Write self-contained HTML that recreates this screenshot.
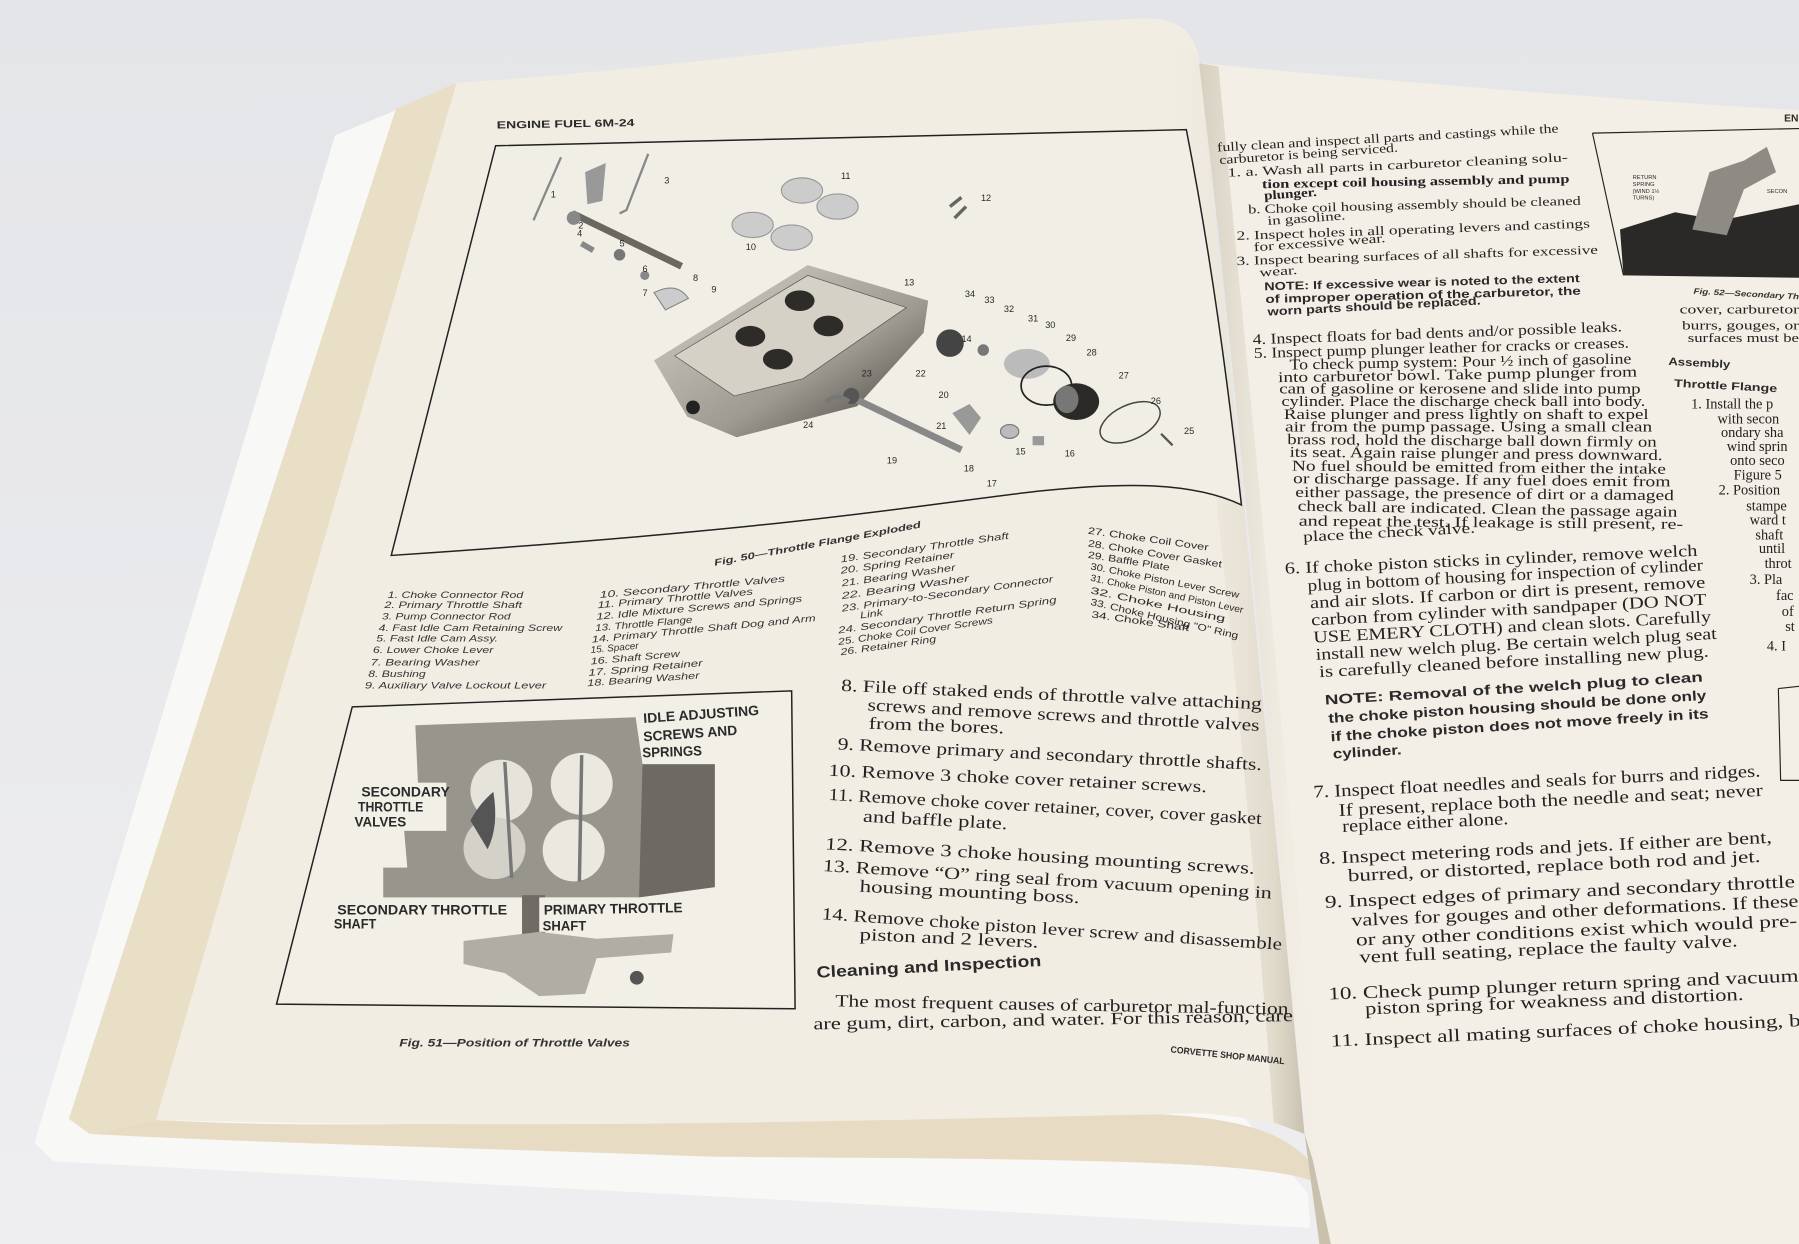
<!DOCTYPE html>
<html><head><meta charset="utf-8">
<style>
html,body{margin:0;padding:0;background:#e9e9ea;}
svg{display:block;}
.s{font-family:"Liberation Serif",serif;fill:#222;}
.a{font-family:"Liberation Sans",sans-serif;fill:#2a2a2a;}
.ai{font-family:"Liberation Sans",sans-serif;font-style:italic;fill:#333;}
.b{font-weight:bold;}
</style></head><body>
<svg width="1799" height="1244" viewBox="0 0 1568 1084" preserveAspectRatio="none" xmlns="http://www.w3.org/2000/svg">
<defs>
<linearGradient id="bg" x1="0" y1="0" x2="0" y2="1"><stop offset="0" stop-color="#e4e5e8"/><stop offset="1" stop-color="#eeeef0"/></linearGradient>
<linearGradient id="gut" x1="0" y1="0" x2="1" y2="0"><stop offset="0" stop-color="#f0ece1" stop-opacity="0"/><stop offset="0.8" stop-color="#e0dacb"/><stop offset="1" stop-color="#c9c1b0"/></linearGradient>
<linearGradient id="gutR" x1="0" y1="0" x2="1" y2="0"><stop offset="0" stop-color="#d6cfbf"/><stop offset="1" stop-color="#f2eee5" stop-opacity="0"/></linearGradient>
<linearGradient id="carb" x1="0" y1="0" x2="1" y2="1"><stop offset="0" stop-color="#d8d4ca"/><stop offset="0.6" stop-color="#9e9a91"/><stop offset="1" stop-color="#3c3a36"/></linearGradient>
</defs>
<rect width="1568" height="1084" fill="url(#bg)"/>
<polygon points="292,118 345,96 1140,1040 1142,1070 47,1012 30,996" fill="#f8f8f6"/>
<polygon points="345,95 398,72 136,976 78,988 60,975" fill="#e9dfc6"/>
<path d="M78,988 L136,976 C400,990 700,960 1012,971 C1090,975 1120,990 1140,1010 L1146,1030 C1100,1010 900,1010 623,1008 C400,1000 200,995 78,988 Z" fill="#e7dcc3"/>
<path d="M398,72 C600,60 850,20 1000,16 C1030,16 1040,30 1045,50 C1070,300 1110,700 1137,988 C1090,972 1050,968 1012,971 C800,975 500,985 136,976 Z" fill="#f1ede3"/>
<path d="M1005,20 L1045,50 C1070,300 1110,700 1137,988 L1110,978 C1090,700 1050,300 1005,20 Z" fill="url(#gut)"/>
<path d="M1045,55 C1100,60 1300,80 1568,96 L1568,1084 L1160,1084 L1140,1010 C1110,700 1075,300 1045,55 Z" fill="#f3efe6"/>
<path d="M1045,55 L1062,58 C1090,350 1125,700 1158,1084 L1150,1084 L1140,1010 C1110,700 1075,300 1045,55 Z" fill="url(#gutR)"/>
<path d="M1137,988 L1150,1084 L1160,1084 L1144,1010 Z" fill="#c9c1ae"/>

<text class="a b" x="433" y="112" font-size="9" textLength="120" lengthAdjust="spacingAndGlyphs" transform="rotate(-1 433 112)">ENGINE FUEL 6M-24</text>

<path d="M432,127 C650,122 850,118 1034,113 C1055,220 1070,330 1082,440 C1040,420 980,420 905,428 C800,440 700,460 341,484 Z" fill="#f1eee6" stroke="#222" stroke-width="1.3"/>
<line x1="489" y1="137" x2="465" y2="192" stroke="#888" stroke-width="2"/>
<polyline points="565,134 546,183 540,186" fill="none" stroke="#888" stroke-width="2"/>
<polygon points="510,150 528,142 525,175 512,178" fill="#999"/>
<line x1="499" y1="186" x2="594" y2="232" stroke="#6a6760" stroke-width="6"/>
<circle cx="500" cy="190" r="6" fill="#888"/>
<rect x="508" y="210" width="12" height="5" fill="#888" transform="rotate(30 508 210)"/>
<circle cx="540" cy="222" r="5" fill="#777"/>
<circle cx="562" cy="240" r="4" fill="#888"/>
<path d="M570,255 q20,-10 30,5 q-10,5 -20,10 z" fill="#ccc" stroke="#888"/>
<ellipse cx="699" cy="166" rx="18" ry="11" fill="#ccc" stroke="#999"/>
<ellipse cx="730" cy="180" rx="18" ry="11" fill="#ccc" stroke="#999"/>
<ellipse cx="656" cy="196" rx="18" ry="11" fill="#ccc" stroke="#999"/>
<ellipse cx="690" cy="207" rx="18" ry="11" fill="#ccc" stroke="#999"/>
<line x1="828" y1="180" x2="838" y2="172" stroke="#666" stroke-width="3"/>
<line x1="832" y1="190" x2="842" y2="180" stroke="#666" stroke-width="3"/>
<polygon points="570,314 704,231 809,262 805,290 747,354 642,381 599,363" fill="url(#carb)"/>
<polygon points="588,310 704,240 790,268 700,330 640,345" fill="#d5d1c7" stroke="#555" stroke-width="0.6"/>
<ellipse cx="697" cy="262" rx="13" ry="9" fill="#2e2c29"/>
<ellipse cx="722" cy="284" rx="13" ry="9" fill="#2e2c29"/>
<ellipse cx="654" cy="293" rx="13" ry="9" fill="#2e2c29"/>
<ellipse cx="678" cy="313" rx="13" ry="9" fill="#2e2c29"/>
<circle cx="604" cy="355" r="6" fill="#222"/>
<line x1="742" y1="346" x2="838" y2="392" stroke="#888" stroke-width="6"/>
<circle cx="742" cy="345" r="7" fill="#555"/>
<path d="M830,360 l15,-8 l10,12 l-10,15 z" fill="#999"/>
<circle cx="828" cy="299" r="12" fill="#444"/>
<circle cx="857" cy="305" r="5" fill="#777"/>
<ellipse cx="895" cy="317" rx="20" ry="13" fill="#bbb"/>
<ellipse cx="912" cy="336" rx="22" ry="17" fill="none" stroke="#222" stroke-width="1.5"/>
<ellipse cx="938" cy="350" rx="20" ry="16" fill="#2c2a27"/>
<ellipse cx="930" cy="348" rx="10" ry="12" fill="#777"/>
<ellipse cx="985" cy="368" rx="28" ry="15" fill="none" stroke="#444" stroke-width="1.3" transform="rotate(-25 985 368)"/>
<line x1="1012" y1="378" x2="1022" y2="388" stroke="#555" stroke-width="2"/>
<ellipse cx="880" cy="376" rx="8" ry="6" fill="#bbb" stroke="#777"/>
<path d="M900,380 l10,0 l0,8 l-10,0 z" fill="#999"/>
<path d="M720,350 q10,-8 20,0" fill="none" stroke="#777" stroke-width="4"/>
<g class="a" font-size="8">
<text x="480" y="172">1</text><text x="504" y="199">2</text><text x="579" y="160">3</text><text x="503" y="206">4</text><text x="540" y="215">5</text><text x="560" y="237">6</text><text x="560" y="258">7</text><text x="604" y="245">8</text><text x="620" y="255">9</text>
<text x="650" y="218">10</text><text x="733" y="156">11</text><text x="855" y="175">12</text><text x="788" y="249">13</text><text x="838" y="298">14</text><text x="885" y="396">15</text><text x="928" y="398">16</text><text x="860" y="424">17</text><text x="840" y="411">18</text><text x="773" y="404">19</text><text x="818" y="347">20</text><text x="816" y="374">21</text><text x="798" y="328">22</text><text x="751" y="328">23</text><text x="700" y="373">24</text><text x="1032" y="378">25</text><text x="1003" y="352">26</text><text x="975" y="330">27</text><text x="947" y="310">28</text><text x="929" y="297">29</text><text x="911" y="286">30</text><text x="896" y="280">31</text><text x="875" y="272">32</text><text x="858" y="264">33</text><text x="841" y="259">34</text>
</g>
<text class="ai b" x="623" y="493" font-size="8" textLength="183" lengthAdjust="spacingAndGlyphs" transform="rotate(-10.5 623 493)">Fig. 50—Throttle Flange Exploded</text>

<g class="ai" font-size="8.3">
<text x="338" y="521" textLength="118" lengthAdjust="spacingAndGlyphs">1. Choke Connector Rod</text>
<text x="335" y="530" textLength="120" lengthAdjust="spacingAndGlyphs">2. Primary Throttle Shaft</text>
<text x="333" y="540" textLength="112" lengthAdjust="spacingAndGlyphs">3. Pump Connector Rod</text>
<text x="330" y="550" textLength="160" lengthAdjust="spacingAndGlyphs">4. Fast Idle Cam Retaining Screw</text>
<text x="328" y="559" textLength="106" lengthAdjust="spacingAndGlyphs">5. Fast Idle Cam Assy.</text>
<text x="325" y="569" textLength="105" lengthAdjust="spacingAndGlyphs">6. Lower Choke Lever</text>
<text x="323" y="580" textLength="95" lengthAdjust="spacingAndGlyphs">7. Bearing Washer</text>
<text x="321" y="590" textLength="50" lengthAdjust="spacingAndGlyphs">8. Bushing</text>
<text x="318" y="600" textLength="158" lengthAdjust="spacingAndGlyphs">9. Auxiliary Valve Lockout Lever</text>
</g>
<g class="ai" font-size="8.3">
<text x="523" y="521" textLength="162" lengthAdjust="spacingAndGlyphs" transform="rotate(-5 523 521)">10. Secondary Throttle Valves</text>
<text x="521" y="530" textLength="136" lengthAdjust="spacingAndGlyphs" transform="rotate(-5 521 530)">11. Primary Throttle Valves</text>
<text x="520" y="540" textLength="180" lengthAdjust="spacingAndGlyphs" transform="rotate(-5 520 540)">12. Idle Mixture Screws and Springs</text>
<text x="519" y="550" textLength="85" lengthAdjust="spacingAndGlyphs" transform="rotate(-5 519 550)">13. Throttle Flange</text>
<text x="516" y="560" textLength="196" lengthAdjust="spacingAndGlyphs" transform="rotate(-5.5 516 560)">14. Primary Throttle Shaft Dog and Arm</text>
<text x="515" y="569" textLength="42" lengthAdjust="spacingAndGlyphs" transform="rotate(-5 515 569)">15. Spacer</text>
<text x="515" y="579" textLength="78" lengthAdjust="spacingAndGlyphs" transform="rotate(-5 515 579)">16. Shaft Screw</text>
<text x="513" y="589" textLength="100" lengthAdjust="spacingAndGlyphs" transform="rotate(-5 513 589)">17. Spring Retainer</text>
<text x="512" y="598" textLength="98" lengthAdjust="spacingAndGlyphs" transform="rotate(-4 512 598)">18. Bearing Washer</text>
</g>
<g class="ai" font-size="8.3">
<text x="733" y="490" textLength="148" lengthAdjust="spacingAndGlyphs" transform="rotate(-8 733 490)">19. Secondary Throttle Shaft</text>
<text x="733" y="500" textLength="100" lengthAdjust="spacingAndGlyphs" transform="rotate(-8 733 500)">20. Spring Retainer</text>
<text x="734" y="511" textLength="100" lengthAdjust="spacingAndGlyphs" transform="rotate(-8 734 511)">21. Bearing Washer</text>
<text x="734" y="522" textLength="112" lengthAdjust="spacingAndGlyphs" transform="rotate(-8 734 522)">22. Bearing Washer</text>
<text x="734" y="533" textLength="186" lengthAdjust="spacingAndGlyphs" transform="rotate(-8 734 533)">23. Primary-to-Secondary Connector</text>
<text x="750" y="539" textLength="20" lengthAdjust="spacingAndGlyphs" transform="rotate(-8 750 539)">Link</text>
<text x="731" y="552" textLength="192" lengthAdjust="spacingAndGlyphs" transform="rotate(-8 731 552)">24. Secondary Throttle Return Spring</text>
<text x="731" y="562" textLength="136" lengthAdjust="spacingAndGlyphs" transform="rotate(-8 731 562)">25. Choke Coil Cover Screws</text>
<text x="733" y="571" textLength="84" lengthAdjust="spacingAndGlyphs" transform="rotate(-8 733 571)">26. Retainer Ring</text>
</g>
<g class="a" font-size="8.3">
<text x="948" y="465" textLength="106" lengthAdjust="spacingAndGlyphs" transform="rotate(8 948 465)">27. Choke Coil Cover</text>
<text x="948" y="476" textLength="118" lengthAdjust="spacingAndGlyphs" transform="rotate(9 948 476)">28. Choke Cover Gasket</text>
<text x="948" y="486" textLength="72" lengthAdjust="spacingAndGlyphs" transform="rotate(9 948 486)">29. Baffle Plate</text>
<text x="950" y="496" textLength="132" lengthAdjust="spacingAndGlyphs" transform="rotate(11 950 496)">30. Choke Piston Lever Screw</text>
<text x="950" y="506" textLength="136" lengthAdjust="spacingAndGlyphs" transform="rotate(12 950 506)">31. Choke Piston and Piston Lever</text>
<text x="950" y="517" textLength="120" lengthAdjust="spacingAndGlyphs" transform="rotate(12 950 517)">32. Choke Housing</text>
<text x="950" y="527" textLength="132" lengthAdjust="spacingAndGlyphs" transform="rotate(13 950 527)">33. Choke Housing "O" Ring</text>
<text x="951" y="538" textLength="86" lengthAdjust="spacingAndGlyphs" transform="rotate(8 951 538)">34. Choke Shaft</text>
</g>

<polygon points="307,616 690,602 693,879 241,875" fill="#f2efe7" stroke="#222" stroke-width="1.3"/>
<path d="M362,632 L554,625 L560,666 L623,666 L623,773 L557,782 L334,782 L334,756 L355,756 L352,721 L366,720 Z" fill="#98958d"/>
<path d="M560,666 L623,666 L623,773 L557,782 Z" fill="#6d6a64"/>
<ellipse cx="437" cy="689" rx="27" ry="27" fill="#e6e3db"/>
<ellipse cx="507" cy="683" rx="27" ry="27" fill="#ebe8e0"/>
<ellipse cx="431" cy="739" rx="27" ry="27" fill="#d4d1c9"/>
<ellipse cx="500" cy="741" rx="27" ry="27" fill="#ebe8e0"/>
<path d="M410,715 q8,-15 20,-25 q5,30 -5,50 z" fill="#555"/>
<line x1="440" y1="664" x2="446" y2="765" stroke="#777" stroke-width="3"/>
<line x1="507" y1="658" x2="505" y2="768" stroke="#777" stroke-width="3"/>
<rect x="455" y="780" width="20" height="40" fill="#6f6c66"/>
<path d="M404,820 L470,812 L520,818 L587,814 L585,830 L520,835 L510,866 L470,868 L440,848 L404,840 Z" fill="#b0ada5"/>
<circle cx="555" cy="852" r="6" fill="#555"/>
<g class="a b" font-size="12">
<rect x="558" y="618" width="78" height="46" fill="#f2efe7" transform="rotate(-4 558 618)"/>
<text x="561" y="630" textLength="101" lengthAdjust="spacingAndGlyphs" transform="rotate(-4 561 630)">IDLE ADJUSTING</text>
<text x="561" y="646" textLength="82" lengthAdjust="spacingAndGlyphs" transform="rotate(-4 561 646)">SCREWS AND</text>
<text x="560" y="660" textLength="52" lengthAdjust="spacingAndGlyphs" transform="rotate(-2 560 660)">SPRINGS</text>
<rect x="307" y="682" width="82" height="42" fill="#f2efe7"/>
<text x="315" y="694" textLength="77" lengthAdjust="spacingAndGlyphs">SECONDARY</text>
<text x="312" y="707" textLength="57" lengthAdjust="spacingAndGlyphs">THROTTLE</text>
<text x="309" y="720" textLength="45" lengthAdjust="spacingAndGlyphs">VALVES</text>
<rect x="288" y="784" width="160" height="28" fill="#f2efe7"/>
<text x="294" y="797" textLength="148" lengthAdjust="spacingAndGlyphs">SECONDARY THROTTLE</text>
<text x="291" y="809" textLength="37" lengthAdjust="spacingAndGlyphs">SHAFT</text>
<rect x="470" y="782" width="125" height="30" fill="#f2efe7"/>
<text x="474" y="797" textLength="121" lengthAdjust="spacingAndGlyphs" transform="rotate(-1 474 797)">PRIMARY THROTTLE</text>
<text x="473" y="811" textLength="38" lengthAdjust="spacingAndGlyphs">SHAFT</text>
</g>
<text class="ai b" x="348" y="912" font-size="9.5" textLength="201" lengthAdjust="spacingAndGlyphs">Fig. 51—Position of Throttle Valves</text>

<g class="s" font-size="15">
<text x="733" y="602" textLength="367" lengthAdjust="spacingAndGlyphs" transform="rotate(2.5 733 602)">8. File off staked ends of throttle valve attaching</text>
<text x="756" y="619" textLength="342" lengthAdjust="spacingAndGlyphs" transform="rotate(3 756 619)">screws and remove screws and throttle valves</text>
<text x="757" y="635" textLength="118" lengthAdjust="spacingAndGlyphs" transform="rotate(2 757 635)">from the bores.</text>
<text x="730" y="653" textLength="370" lengthAdjust="spacingAndGlyphs" transform="rotate(2.8 730 653)">9. Remove primary and secondary throttle shafts.</text>
<text x="722" y="676" textLength="330" lengthAdjust="spacingAndGlyphs" transform="rotate(2.5 722 676)">10. Remove 3 choke cover retainer screws.</text>
<text x="722" y="697" textLength="378" lengthAdjust="spacingAndGlyphs" transform="rotate(3.2 722 697)">11. Remove choke cover retainer, cover, cover gasket</text>
<text x="752" y="716" textLength="126" lengthAdjust="spacingAndGlyphs" transform="rotate(3 752 716)">and baffle plate.</text>
<text x="719" y="740" textLength="375" lengthAdjust="spacingAndGlyphs" transform="rotate(3.3 719 740)">12. Remove 3 choke housing mounting screws.</text>
<text x="717" y="759" textLength="392" lengthAdjust="spacingAndGlyphs" transform="rotate(3.5 717 759)">13. Remove “O” ring seal from vacuum opening in</text>
<text x="749" y="777" textLength="192" lengthAdjust="spacingAndGlyphs" transform="rotate(3 749 777)">housing mounting boss.</text>
<text x="716" y="801" textLength="402" lengthAdjust="spacingAndGlyphs" transform="rotate(3.8 716 801)">14. Remove choke piston lever screw and disassemble</text>
<text x="749" y="819" textLength="156" lengthAdjust="spacingAndGlyphs" transform="rotate(2.5 749 819)">piston and 2 levers.</text>
<text x="728" y="877" textLength="395" lengthAdjust="spacingAndGlyphs" transform="rotate(1 728 877)">The most frequent causes of carburetor mal-function</text>
<text x="709" y="897" textLength="418" lengthAdjust="spacingAndGlyphs" transform="rotate(-1 709 897)">are gum, dirt, carbon, and water. For this reason, care</text>
</g>
<text class="a b" x="712" y="852" font-size="14" textLength="196" lengthAdjust="spacingAndGlyphs" transform="rotate(-3 712 852)">Cleaning and Inspection</text>
<text class="a b" x="1020" y="917" font-size="8" textLength="100" lengthAdjust="spacingAndGlyphs" transform="rotate(6 1020 917)">CORVETTE SHOP MANUAL</text>

<g class="s" font-size="11">
<text x="1061" y="132" textLength="298" lengthAdjust="spacingAndGlyphs" transform="rotate(-3.2 1061 132)">fully clean and inspect all parts and castings while the</text>
<text x="1063" y="143" textLength="156" lengthAdjust="spacingAndGlyphs" transform="rotate(-4 1063 143)">carburetor is being serviced.</text>
<text x="1070" y="154" textLength="297" lengthAdjust="spacingAndGlyphs" transform="rotate(-2.6 1070 154)">1. a. Wash all parts in carburetor cleaning solu-</text>
<text class="b" x="1100" y="164" textLength="268" lengthAdjust="spacingAndGlyphs" transform="rotate(-1 1100 164)">tion except coil housing assembly and pump</text>
<text class="b" x="1102" y="174" textLength="46" lengthAdjust="spacingAndGlyphs" transform="rotate(-4 1102 174)">plunger.</text>
<text x="1088" y="186" textLength="290" lengthAdjust="spacingAndGlyphs" transform="rotate(-1.5 1088 186)">b. Choke coil housing assembly should be cleaned</text>
<text x="1105" y="196" textLength="68" lengthAdjust="spacingAndGlyphs" transform="rotate(-4 1105 196)">in gasoline.</text>
<text x="1078" y="209" textLength="308" lengthAdjust="spacingAndGlyphs" transform="rotate(-2 1078 209)">2. Inspect holes in all operating levers and castings</text>
<text x="1093" y="219" textLength="115" lengthAdjust="spacingAndGlyphs" transform="rotate(-4 1093 219)">for excessive wear.</text>
<text x="1078" y="231" textLength="315" lengthAdjust="spacingAndGlyphs" transform="rotate(-1.8 1078 231)">3. Inspect bearing surfaces of all shafts for excessive</text>
<text x="1098" y="241" textLength="33" lengthAdjust="spacingAndGlyphs" transform="rotate(-4 1098 241)">wear.</text>
</g>
<g class="a b" font-size="10">
<text x="1102" y="253" textLength="275" lengthAdjust="spacingAndGlyphs" transform="rotate(-1.5 1102 253)">NOTE: If excessive wear is noted to the extent</text>
<text x="1103" y="264" textLength="275" lengthAdjust="spacingAndGlyphs" transform="rotate(-1.5 1103 264)">of improper operation of the carburetor, the</text>
<text x="1105" y="275" textLength="186" lengthAdjust="spacingAndGlyphs" transform="rotate(-3 1105 275)">worn parts should be replaced.</text>
</g>
<g class="s" font-size="13">
<text x="1092" y="300" textLength="322" lengthAdjust="spacingAndGlyphs" transform="rotate(-2 1092 300)">4. Inspect floats for bad dents and/or possible leaks.</text>
<text x="1093" y="312" textLength="327" lengthAdjust="spacingAndGlyphs" transform="rotate(-1.6 1093 312)">5. Inspect pump plunger leather for cracks or creases.</text>
<text x="1124" y="322" textLength="298" lengthAdjust="spacingAndGlyphs" transform="rotate(-1 1124 322)">To check pump system: Pour ½ inch of gasoline</text>
<text x="1114" y="333" textLength="313" lengthAdjust="spacingAndGlyphs" transform="rotate(-0.9 1114 333)">into carburetor bowl. Take pump plunger from</text>
<text x="1115" y="343" textLength="315" lengthAdjust="spacingAndGlyphs">can of gasoline or kerosene and slide into pump</text>
<text x="1117" y="354" textLength="317" lengthAdjust="spacingAndGlyphs">cylinder. Place the discharge check ball into body.</text>
<text x="1119" y="365" textLength="318" lengthAdjust="spacingAndGlyphs">Raise plunger and press lightly on shaft to expel</text>
<text x="1120" y="376" textLength="320" lengthAdjust="spacingAndGlyphs">air from the pump passage. Using a small clean</text>
<text x="1122" y="387" textLength="322" lengthAdjust="spacingAndGlyphs" transform="rotate(0.4 1122 387)">brass rod, hold the discharge ball down firmly on</text>
<text x="1124" y="398" textLength="325" lengthAdjust="spacingAndGlyphs" transform="rotate(0.5 1124 398)">its seat. Again raise plunger and press downward.</text>
<text x="1126" y="410" textLength="326" lengthAdjust="spacingAndGlyphs" transform="rotate(0.5 1126 410)">No fuel should be emitted from either the intake</text>
<text x="1127" y="421" textLength="329" lengthAdjust="spacingAndGlyphs" transform="rotate(0.5 1127 421)">or discharge passage. If any fuel does emit from</text>
<text x="1129" y="433" textLength="330" lengthAdjust="spacingAndGlyphs" transform="rotate(0.5 1129 433)">either passage, the presence of dirt or a damaged</text>
<text x="1131" y="445" textLength="331" lengthAdjust="spacingAndGlyphs" transform="rotate(0.9 1131 445)">check ball are indicated. Clean the passage again</text>
<text x="1132" y="458" textLength="335" lengthAdjust="spacingAndGlyphs" transform="rotate(0.5 1132 458)">and repeat the test. If leakage is still present, re-</text>
<text x="1136" y="472" textLength="150" lengthAdjust="spacingAndGlyphs" transform="rotate(-3 1136 472)">place the check valve.</text>
</g>
<g class="s" font-size="14.5">
<text x="1120" y="500" textLength="360" lengthAdjust="spacingAndGlyphs" transform="rotate(-2.5 1120 500)">6. If choke piston sticks in cylinder, remove welch</text>
<text x="1140" y="515" textLength="345" lengthAdjust="spacingAndGlyphs" transform="rotate(-3 1140 515)">plug in bottom of housing for inspection of cylinder</text>
<text x="1142" y="530" textLength="345" lengthAdjust="spacingAndGlyphs" transform="rotate(-3 1142 530)">and air slots. If carbon or dirt is present, remove</text>
<text x="1143" y="545" textLength="345" lengthAdjust="spacingAndGlyphs" transform="rotate(-3 1143 545)">carbon from cylinder with sandpaper (DO NOT</text>
<text x="1145" y="560" textLength="347" lengthAdjust="spacingAndGlyphs" transform="rotate(-3 1145 560)">USE EMERY CLOTH) and clean slots. Carefully</text>
<text x="1147" y="575" textLength="350" lengthAdjust="spacingAndGlyphs" transform="rotate(-3 1147 575)">install new welch plug. Be certain welch plug seat</text>
<text x="1150" y="590" textLength="340" lengthAdjust="spacingAndGlyphs" transform="rotate(-3 1150 590)">is carefully cleaned before installing new plug.</text>
</g>
<g class="a b" font-size="12">
<text x="1155" y="614" textLength="330" lengthAdjust="spacingAndGlyphs" transform="rotate(-3.5 1155 614)">NOTE: Removal of the welch plug to clean</text>
<text x="1158" y="630" textLength="330" lengthAdjust="spacingAndGlyphs" transform="rotate(-3.5 1158 630)">the choke piston housing should be done only</text>
<text x="1160" y="646" textLength="330" lengthAdjust="spacingAndGlyphs" transform="rotate(-3.5 1160 646)">if the choke piston does not move freely in its</text>
<text x="1162" y="661" textLength="60" lengthAdjust="spacingAndGlyphs" transform="rotate(-3.5 1162 661)">cylinder.</text>
</g>
<g class="s" font-size="15.5">
<text x="1145" y="695" textLength="390" lengthAdjust="spacingAndGlyphs" transform="rotate(-2.7 1145 695)">7. Inspect float needles and seals for burrs and ridges.</text>
<text x="1167" y="711" textLength="370" lengthAdjust="spacingAndGlyphs" transform="rotate(-2.7 1167 711)">If present, replace both the needle and seat; never</text>
<text x="1170" y="725" textLength="145" lengthAdjust="spacingAndGlyphs" transform="rotate(-2.7 1170 725)">replace either alone.</text>
<text x="1150" y="753" textLength="395" lengthAdjust="spacingAndGlyphs" transform="rotate(-2.7 1150 753)">8. Inspect metering rods and jets. If either are bent,</text>
<text x="1175" y="768" textLength="360" lengthAdjust="spacingAndGlyphs" transform="rotate(-2.7 1175 768)">burred, or distorted, replace both rod and jet.</text>
<text x="1155" y="791" textLength="410" lengthAdjust="spacingAndGlyphs" transform="rotate(-2.5 1155 791)">9. Inspect edges of primary and secondary throttle</text>
<text x="1178" y="807" textLength="390" lengthAdjust="spacingAndGlyphs" transform="rotate(-2.5 1178 807)">valves for gouges and other deformations. If these</text>
<text x="1182" y="824" textLength="385" lengthAdjust="spacingAndGlyphs" transform="rotate(-2.5 1182 824)">or any other conditions exist which would pre-</text>
<text x="1185" y="839" textLength="330" lengthAdjust="spacingAndGlyphs" transform="rotate(-2.5 1185 839)">vent full seating, replace the faulty valve.</text>
<text x="1158" y="871" textLength="410" lengthAdjust="spacingAndGlyphs" transform="rotate(-2.2 1158 871)">10. Check pump plunger return spring and vacuum</text>
<text x="1190" y="884" textLength="330" lengthAdjust="spacingAndGlyphs" transform="rotate(-2.2 1190 884)">piston spring for weakness and distortion.</text>
<text x="1160" y="912" textLength="410" lengthAdjust="spacingAndGlyphs" transform="rotate(-2.5 1160 912)">11. Inspect all mating surfaces of choke housing, b</text>
</g>

<text class="a b" x="1555" y="106" font-size="9">EN</text>
<path d="M1388,116 L1568,112 M1388,116 L1415,240" stroke="#222" stroke-width="1" fill="none"/>
<polygon points="1412,200 1460,185 1500,192 1568,178 1568,242 1415,240" fill="#2a2927"/>
<path d="M1475,200 L1490,150 L1520,140 L1540,128 L1548,150 L1520,165 L1505,205 Z" fill="#8e8b85"/>
<g class="a" font-size="5"><text x="1423" y="156">RETURN</text><text x="1423" y="162">SPRING</text><text x="1423" y="168">(WIND 1½</text><text x="1423" y="174">TURNS)</text><text x="1540" y="168">SECON</text></g>
<text class="ai b" x="1476" y="256" font-size="7" textLength="92" lengthAdjust="spacingAndGlyphs" transform="rotate(3 1476 256)">Fig. 52—Secondary Th</text>
<g class="s" font-size="11">
<text x="1464" y="273" textLength="104" lengthAdjust="spacingAndGlyphs">cover, carburetor</text>
<text x="1466" y="287" textLength="102" lengthAdjust="spacingAndGlyphs">burrs, gouges, or</text>
<text x="1471" y="298" textLength="97" lengthAdjust="spacingAndGlyphs">surfaces must be</text>
</g>
<text class="a b" x="1454" y="318" font-size="9.5" textLength="54" lengthAdjust="spacingAndGlyphs" transform="rotate(3 1454 318)">Assembly</text>
<text class="a b" x="1459" y="337" font-size="9.5" textLength="90" lengthAdjust="spacingAndGlyphs" transform="rotate(3 1459 337)">Throttle Flange</text>
<g class="s" font-size="12.5">
<text x="1474" y="356">1. Install the p</text>
<text x="1497" y="369">with secon</text>
<text x="1500" y="381">ondary sha</text>
<text x="1505" y="393">wind sprin</text>
<text x="1508" y="405">onto seco</text>
<text x="1511" y="418">Figure 5</text>
<text x="1498" y="431">2. Position</text>
<text x="1522" y="445">stampe</text>
<text x="1525" y="457">ward t</text>
<text x="1530" y="470">shaft</text>
<text x="1533" y="482">until</text>
<text x="1538" y="495">throt</text>
<text x="1525" y="509">3. Pla</text>
<text x="1548" y="523">fac</text>
<text x="1553" y="537">of</text>
<text x="1556" y="550">st</text>
<text x="1540" y="567">4. I</text>
</g>
<path d="M1550,600 L1568,598 M1550,600 L1552,680 L1568,680" stroke="#222" stroke-width="1" fill="none"/>
</svg>
</body></html>
